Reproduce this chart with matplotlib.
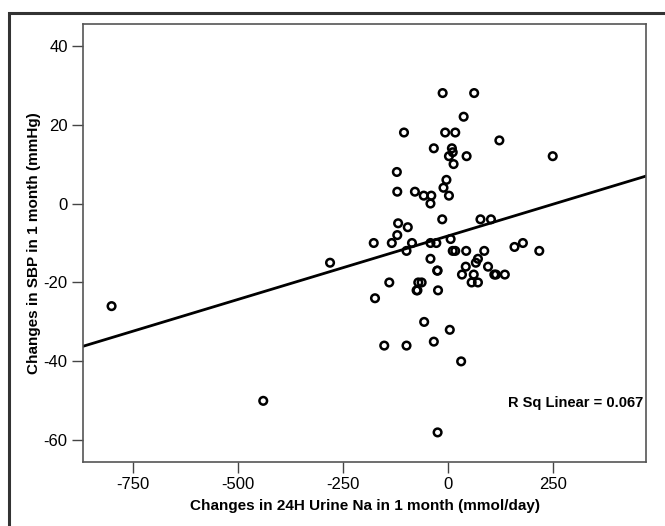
import matplotlib.pyplot as plt
import numpy as np
from matplotlib.patches import Rectangle

plt.rcParams['font.family'] = ['Liberation Sans', 'DejaVu Sans']
plt.rcParams['axes.unicode_minus'] = False

# change in 24H urine Na (mmol/day)
na_change = [-801, -440, -281, -177, -174, -140, -152, -134, -122, -121,
             -119, -121, -105, -99, -99, -96, -86, -79, -75, -71,
             -63, -58, -57, -42, -42, -40, -42, -34, -34, -28,
             -25, -24, -25, -14, -13, -11, -7, -4, 2, 2,
             4, 6, 9, 11, 13, 11, 17, 17, 31, 33,
             37, 42, 43, 44, 56, 61, 62, 66, 71, 71,
             77, 86, 95, 102, 110, 114, 122, 135, 158, 178,
             217, 249, -26, -73]
# change in SBP (mmHg)
sbp_change = [-26, -50, -15, -10, -24, -20, -36, -10, 8, 3,
              -5, -8, 18, -12, -36, -6, -10, 3, -22, -20,
              -20, 2, -30, -10, -14, 2, 0, 14, -35, -10,
              -17, -22, -58, -4, 28, 4, 18, 6, 2, 12,
              -32, -9, 14, 13, 10, -12, -12, 18, -40, -18,
              22, -16, -12, 12, -20, -18, 28, -15, -14, -20,
              -4, -12, -16, -4, -18, -18, 16, -18, -11, -10,
              -12, 12, -17, -22]

xlim = (-869, 471)
ylim = (-65.5, 45.5)
xticks = [-750, -500, -250, 0, 250]
yticks = [-60, -40, -20, 0, 20, 40]
r2_label = 'R Sq Linear = 0.067'

fig = plt.figure(figsize=(6.65, 5.26), dpi=100)
# outer frame
fig.patches.append(Rectangle((9 / 665, -0.05), 1.0, 1 - 13 / 526 + 0.05,
                             transform=fig.transFigure, fill=False,
                             edgecolor='#333333', linewidth=2.2))

ax = fig.add_axes([83 / 665, 1 - 462 / 526, 563 / 665, 438 / 526])
ax.scatter(na_change, sbp_change, s=30, facecolors='none',
           edgecolors='black', linewidths=1.8, zorder=3)

slope, intercept = np.polyfit(na_change, sbp_change, 1)
xs = np.array(xlim)
ax.plot(xs, slope * xs + intercept, color='black', linewidth=2.0)

ax.set_xlim(xlim)
ax.set_ylim(ylim)
ax.set_xticks(xticks)
ax.set_yticks(yticks)
ax.tick_params(direction='out', length=8, width=1, color='#444444',
               labelsize=12, pad=3)
for s in ax.spines.values():
    s.set_color('#555555')
    s.set_linewidth(1.2)

ax.set_xlabel('Changes in 24H Urine Na in 1 month (mmol/day)',
              fontsize=11, fontweight='bold', labelpad=5)
ax.set_ylabel('Changes in SBP in 1 month (mmHg)',
              fontsize=11, fontweight='bold', labelpad=2)
ax.text(0.995, 0.135, r2_label, transform=ax.transAxes, ha='right',
        va='center', fontsize=10.5, fontweight='bold')

fig.savefig('out.png', dpi=100)
